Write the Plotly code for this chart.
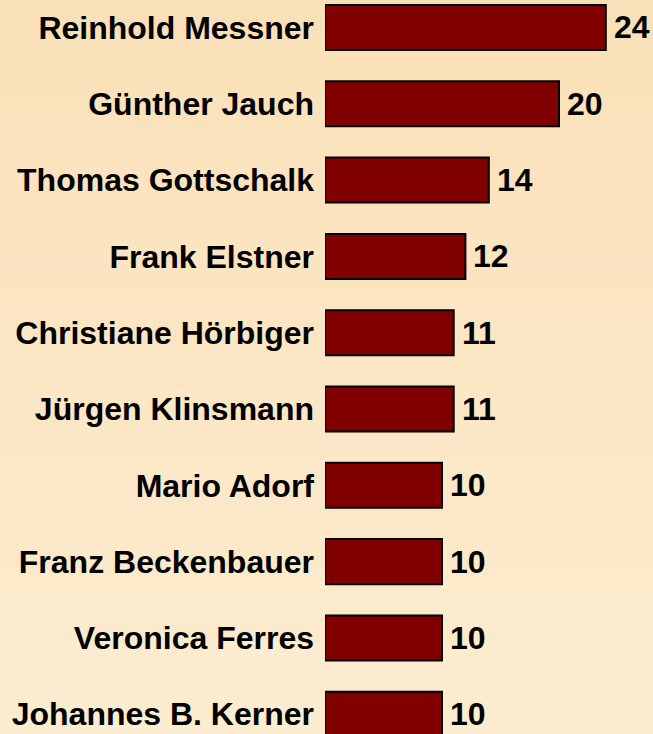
import plotly.graph_objects as go

names = ["Reinhold Messner", "Günther Jauch", "Thomas Gottschalk", "Frank Elstner",
         "Christiane Hörbiger", "Jürgen Klinsmann", "Mario Adorf", "Franz Beckenbauer",
         "Veronica Ferres", "Johannes B. Kerner"]
values = [24, 20, 14, 12, 11, 11, 10, 10, 10, 10]

W, H = 653, 734
FONT = dict(family="Liberation Sans, Arial, sans-serif", size=32, color="black")

fig = go.Figure()
fig.add_trace(go.Bar(
    x=values, y=names, orientation="h", width=0.59,
    marker=dict(color="#800000", line=dict(color="black", width=2)),
    hoverinfo="skip",
))

# value labels
for n, v in zip(names, values):
    fig.add_annotation(x=v, y=n, text="<b>%d</b>" % v, showarrow=False,
                       xanchor="left", yanchor="middle", xshift=6, font=FONT)

# vertical gradient background
top = (250, 224, 184)
bot = (252, 236, 208)
N = 40
shapes = []
for i in range(N):
    t = i / (N - 1)
    c = tuple(round(top[k] + (bot[k] - top[k]) * t) for k in range(3))
    shapes.append(dict(type="rect", xref="paper", yref="paper",
                       x0=0, x1=1, y1=1 - i / N, y0=1 - (i + 1) / N - 0.001,
                       fillcolor="rgb(%d,%d,%d)" % c, line=dict(width=0), layer="below"))

fig.update_layout(
    width=W, height=H, margin=dict(l=0, r=0, t=0, b=0),
    paper_bgcolor="rgb(251,230,195)", plot_bgcolor="rgba(0,0,0,0)",
    shapes=shapes, showlegend=False,
    xaxis=dict(domain=[325 / W, 1], range=[0, (W - 325) / 11.7], visible=False,
               fixedrange=True),
    yaxis=dict(range=[9.259, -0.360], showgrid=False, zeroline=False, showline=False,
               ticks="", tickfont=FONT, ticklabelstandoff=10, fixedrange=True,
               tickprefix="<b>", ticksuffix="</b>"),
)
fig.write_html("out.html")
